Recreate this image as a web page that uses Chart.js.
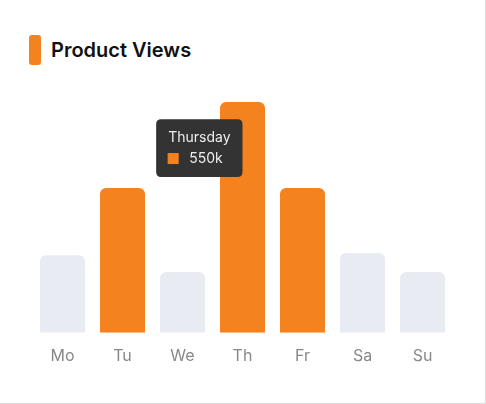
<!DOCTYPE html>
<html>
<head>
<meta charset="utf-8">
<script src="https://cdn.jsdelivr.net/npm/chart.js@4"></script>
<style>
  html, body { margin: 0; padding: 0; background: #fff; }
  body { width: 486px; height: 404px; overflow: hidden; position: relative; font-family: Inter, "Noto Sans", sans-serif; }
  .card { position: absolute; left: -1px; top: -1px; width: 487px; height: 405px; box-sizing: border-box; border: 1px solid #dcdcdc; }
  .title { position: absolute; left: 29px; top: 35px; height: 30px; display: flex; align-items: center; }
  .title .mark { width: 12px; height: 30px; border-radius: 3px; background: #f4831f; margin-right: 10px; }
  .title span { font-size: 20px; font-weight: 600; color: #111; }
  .wrap { position: absolute; left: 0; top: 0; width: 486px; height: 404px; }
</style>
</head>
<body>
<div class="card"></div>
<div class="title"><div class="mark"></div><span>Product Views</span></div>
<div class="wrap"><canvas id="viewsChart"></canvas></div>
<script>
const days = ["Mo", "Tu", "We", "Th", "Fr", "Sa", "Su"];
const fullDays = ["Monday", "Tuesday", "Wednesday", "Thursday", "Friday", "Saturday", "Sunday"];
const views = [185, 345, 145, 550, 345, 190, 145]; // thousands
const highlighted = [false, true, false, true, true, false, false];
const activeDay = 3;

const orange = "#f4831f";
const grey = "#e8ebf2";

// tooltip sits a fifth of the way down the bar
Chart.Tooltip.positioners.barUpper = function (items) {
  if (!items.length) return false;
  const el = items[0].element;
  return { x: el.x, y: el.y + (el.base - el.y) * 0.2 };
};

const ctx = document.getElementById("viewsChart").getContext("2d");

const chart = new Chart(ctx, {
  type: "bar",
  data: {
    labels: days,
    datasets: [
      {
        data: views,
        backgroundColor: highlighted.map((h) => (h ? orange : grey)),
        borderRadius: 6,
        barPercentage: 0.75,
        categoryPercentage: 1,
      },
    ],
  },
  options: {
    responsive: true,
    maintainAspectRatio: false,
    animation: false,
    events: [],
    layout: { padding: { left: 32.5, right: 33.5, top: 102, bottom: 24 } },
    scales: {
      x: {
        grid: { display: false, drawTicks: false },
        border: { display: false },
        ticks: { color: "#888", font: { family: "Inter", size: 16 }, padding: 14 },
      },
      y: { display: false, min: 0, max: 550 },
    },
    plugins: {
      legend: { display: false },
      tooltip: {
        position: "barUpper",
        xAlign: "right",
        yAlign: "center",
        caretSize: 0,
        caretPadding: 0,
        backgroundColor: "#333333",
        titleColor: "#eeeeee",
        bodyColor: "#eeeeee",
        titleFont: { family: "Inter", size: 14, weight: "normal" },
        bodyFont: { family: "Inter", size: 14 },
        titleMarginBottom: 4,
        padding: { x: 12, y: 10 },
        cornerRadius: 5,
        boxWidth: 10,
        boxHeight: 10,
        boxPadding: 9,
        multiKeyBackground: orange,
        callbacks: {
          title: (items) => fullDays[items[0].dataIndex],
          label: (item) => item.raw + "k",
          labelColor: () => ({ borderColor: orange, backgroundColor: orange }),
        },
      },
    },
  },
});

chart.tooltip.setActiveElements([{ datasetIndex: 0, index: activeDay }], { x: 0, y: 0 });
chart.update();
</script>
</body>
</html>
